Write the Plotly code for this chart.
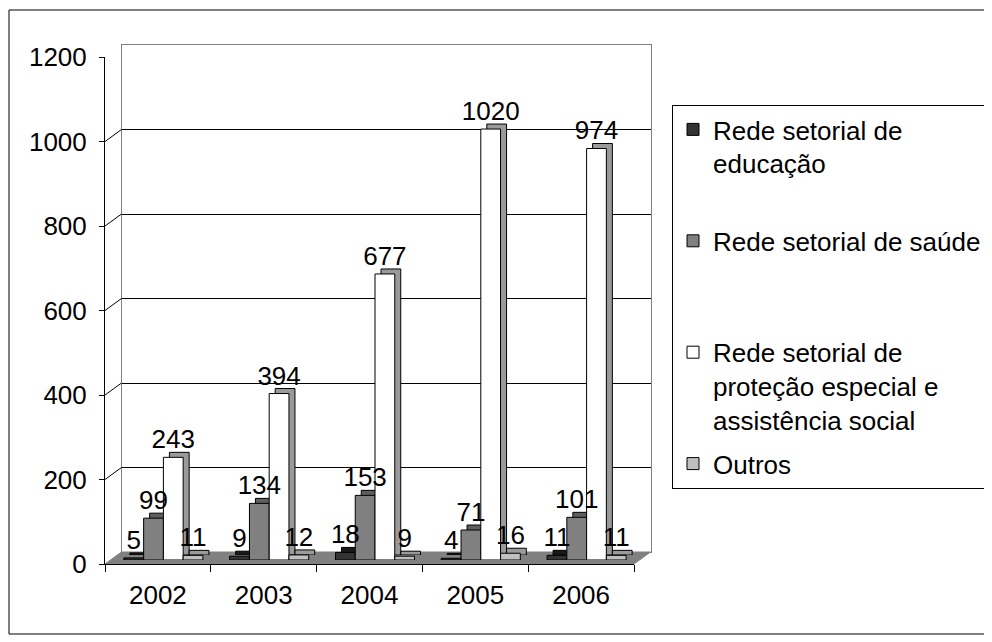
import plotly.graph_objects as go

# ---------------- data ----------------
years = ["2002", "2003", "2004", "2005", "2006"]
series_names = [
    "Rede setorial de<br>educação",
    "Rede setorial de saúde",
    "Rede setorial de<br>proteção especial e<br>assistência social",
    "Outros",
]
educacao = [5, 9, 18, 4, 11]
saude = [99, 134, 153, 71, 101]
protecao = [243, 394, 677, 1020, 974]
outros = [11, 12, 9, 16, 11]
y_ticks = [0, 200, 400, 600, 800, 1000, 1200]

series_values = [educacao, saude, protecao, outros]
front_colors = ["#333333", "#808080", "#ffffff", "#c0c0c0"]
side_colors = ["#1a1a1a", "#5e5e5e", "#9a9a9a", "#9a9a9a"]
legend_pad = ["<br> ", "<br> <br> ", "", ""]

# ---------------- geometry (pixels in the target picture) ----------------
W, H = 992, 642
OX, OY = 7, 8            # page offset of the plot div
FX0, FX1 = 104, 633      # front x-axis extent
FYB, FYT = 564, 57       # front y positions of 0 and 1200
WALL = (16.5, 12)        # depth offset of back wall
BAR_FRONT = (5.5, 4)     # bar front plane offset
BAR_BACK = (11.5, 9)     # bar back plane offset
FONT = dict(family="Liberation Sans, Arial, sans-serif", size=26, color="black")


def px(x):
    return (x - OX) / W


def py(y):
    return 1 - (y - OY) / H


def dom(off):
    dx, dy = off
    return ([px(FX0 + dx), px(FX1 + dx)], [py(FYB - dy), py(FYT - dy)])


YR = [0, 1200]
XR = [-0.5, 4.5]

fig = go.Figure()

fig.add_trace(go.Scatter(x=years, y=[None] * len(years), xaxis="x", yaxis="y",
                         showlegend=False, hoverinfo="skip"))
for vals, col in zip(series_values, side_colors):
    fig.add_trace(go.Bar(x=years, y=vals, xaxis="x2", yaxis="y2", showlegend=False,
                         marker=dict(color=col, line=dict(color="black", width=1)),
                         hoverinfo="skip"))
for name, vals, col, pad in zip(series_names, series_values, front_colors, legend_pad):
    fig.add_trace(go.Bar(x=years, y=vals, xaxis="x3", yaxis="y3", name=name + pad,
                         legendgroup=name,
                         marker=dict(color=col, line=dict(color="black", width=1))))
for vals in series_values:
    fig.add_trace(go.Bar(x=years, y=vals, xaxis="x4", yaxis="y4", showlegend=False,
                         marker=dict(color="rgba(0,0,0,0)", line=dict(width=0)),
                         text=vals, texttemplate="%{y}", textposition="outside",
                         constraintext="none", cliponaxis=False, textfont=FONT,
                         hoverinfo="skip"))
fig.add_trace(go.Scatter(x=years, y=[None] * len(years), xaxis="x5", yaxis="y5",
                         showlegend=False, hoverinfo="skip"))

wx, wy = dom(WALL)
bx, by = dom(BAR_BACK)
fx_, fy_ = dom(BAR_FRONT)
ax_, ay_ = dom((0, 0))

hidden_x = dict(type="category", categoryorder="array", categoryarray=years, range=XR,
                showgrid=False, showticklabels=False, ticks="", zeroline=False,
                showline=False, fixedrange=True, automargin=False)
hidden_y = dict(range=YR, showgrid=False, showticklabels=False, ticks="",
                zeroline=False, showline=False, fixedrange=True, automargin=False)

layout = dict(
    width=W, height=H,
    margin=dict(l=0, r=0, t=0, b=0, pad=0, autoexpand=False),
    paper_bgcolor="white", plot_bgcolor="rgba(0,0,0,0)",
    font=FONT,
    barmode="group", bargap=0.253, bargroupgap=0,
    showlegend=True,
    legend=dict(x=px(671), y=py(105), xanchor="left", yanchor="top",
                bordercolor="black", borderwidth=1, bgcolor="white",
                font=FONT, valign="top", traceorder="grouped", tracegroupgap=7),
)
layout["xaxis"] = dict(hidden_x, domain=wx, anchor="y", showline=True, mirror=True,
                       linecolor="#808080", linewidth=1)
layout["yaxis"] = dict(hidden_y, domain=wy, anchor="x", showline=True, mirror=True,
                       linecolor="#808080", linewidth=1, showgrid=True,
                       tickvals=y_ticks[:-1], gridcolor="black", gridwidth=1)
layout["xaxis2"] = dict(hidden_x, domain=bx, anchor="y2")
layout["yaxis2"] = dict(hidden_y, domain=by, anchor="x2")
layout["xaxis3"] = dict(hidden_x, domain=fx_, anchor="y3")
layout["yaxis3"] = dict(hidden_y, domain=fy_, anchor="x3")
layout["xaxis4"] = dict(hidden_x, domain=fx_, anchor="y4")
layout["yaxis4"] = dict(hidden_y, domain=fy_, anchor="x4")
layout["xaxis5"] = dict(hidden_x, domain=ax_, anchor="y5", showline=True,
                        linecolor="black", linewidth=1, showticklabels=True,
                        ticks="outside", ticklen=7, tickcolor="black",
                        tickson="boundaries", ticklabelstandoff=8, tickfont=FONT)
layout["yaxis5"] = dict(hidden_y, domain=ay_, anchor="x5", showline=True,
                        linecolor="black", linewidth=1, showticklabels=True,
                        ticks="outside", ticklen=5, tickcolor="black",
                        tickvals=y_ticks, ticklabelstandoff=7, tickfont=FONT)

shapes = []
shapes.append(dict(type="rect", xref="paper", yref="paper",
                   x0=px(8), x1=1.05, y0=py(634), y1=py(10),
                   line=dict(color="black", width=1), fillcolor="rgba(0,0,0,0)",
                   layer="below"))
fx0, fx1 = px(FX0), px(FX1)
fdx = WALL[0] / W
fyb, fyk = py(FYB), py(FYB - WALL[1])
shapes.append(dict(type="path", xref="paper", yref="paper",
                   path=f"M{fx0},{fyb} L{fx1},{fyb} L{fx1 + fdx},{fyk} L{fx0 + fdx},{fyk} Z",
                   fillcolor="#808080", line=dict(color="#808080", width=1),
                   layer="below"))
for v in y_ticks[1:]:
    shapes.append(dict(type="line", xref="paper", yref="y5", ysizemode="pixel",
                       yanchor=v, x0=fx0, x1=fx0 + fdx, y0=0, y1=WALL[1],
                       line=dict(color="#808080" if v == y_ticks[-1] else "black",
                                 width=1)))
layout["shapes"] = shapes

fig.update_layout(**layout)
fig.write_html("out.html")
